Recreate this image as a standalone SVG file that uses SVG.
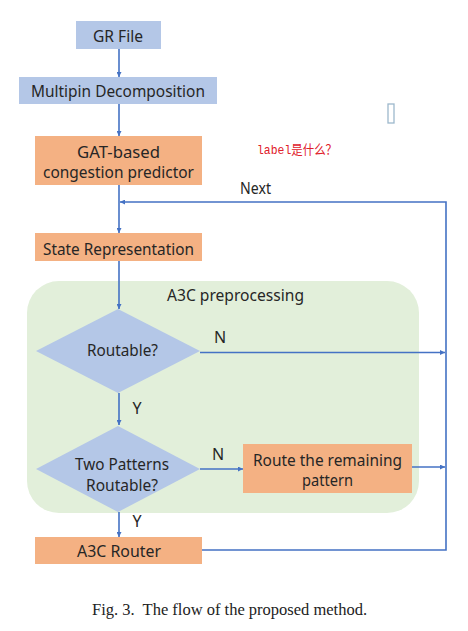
<svg xmlns="http://www.w3.org/2000/svg" width="468" height="631" viewBox="0 0 468 631">
<defs>
<style>
.t{font-family:"Noto Sans","Open Sans",sans-serif;font-size:16px;fill:#262626;text-anchor:middle}
.lbl{font-family:"Noto Sans","Open Sans",sans-serif;font-size:16px;fill:#262626;text-anchor:middle}
.blue{fill:#B4C7E7}
.orange{fill:#F4B183}
.c{fill:none;stroke:#4472C4;stroke-width:1.6}
</style>
<marker id="ah" viewBox="0 0 10 10" refX="10" refY="5" markerWidth="5" markerHeight="5" markerUnits="userSpaceOnUse" orient="auto">
<path d="M0,0 L10,5 L0,10 z" fill="#4472C4"/>
</marker>
</defs>
<rect width="468" height="631" fill="#ffffff"/>
<g id="container">
<rect x="27" y="281" width="392" height="232" rx="32" fill="#E2EFDA"/>
<text class="t" x="235.5" y="300.5" textLength="137" lengthAdjust="spacingAndGlyphs">A3C preprocessing</text>
</g>
<g id="connectors">
<line class="c" x1="119" y1="49" x2="119" y2="77" marker-end="url(#ah)"/>
<line class="c" x1="119" y1="104" x2="119" y2="136" marker-end="url(#ah)"/>
<line class="c" x1="119" y1="185" x2="119" y2="233" marker-end="url(#ah)"/>
<polyline class="c" points="202,550 446,550 446,202 120,202" marker-end="url(#ah)"/>
<line class="c" x1="119" y1="261" x2="119" y2="309" marker-end="url(#ah)"/>
<line class="c" x1="200" y1="352.5" x2="445" y2="352.5" marker-end="url(#ah)"/>
<line class="c" x1="119" y1="393" x2="119" y2="425" marker-end="url(#ah)"/>
<line class="c" x1="200" y1="469" x2="243" y2="469" marker-end="url(#ah)"/>
<line class="c" x1="412" y1="467" x2="445" y2="467" marker-end="url(#ah)"/>
<line class="c" x1="119" y1="512" x2="119" y2="537" marker-end="url(#ah)"/>
<text class="lbl" x="255.5" y="194" textLength="31" lengthAdjust="spacingAndGlyphs" fill="#1a1a1a">Next</text>
<text class="lbl" x="220" y="343">N</text>
<text class="lbl" x="137" y="414">Y</text>
<text class="lbl" x="218" y="460">N</text>
<text class="lbl" x="137" y="527">Y</text>
</g>
<g id="gr-file">
<rect class="blue" x="76" y="21" width="85" height="28"/>
<text class="t" x="118" y="41.5" textLength="50" lengthAdjust="spacingAndGlyphs">GR File</text>
</g>
<g id="multipin">
<rect class="blue" x="19" y="77" width="198" height="27"/>
<text class="t" x="118" y="97" textLength="174" lengthAdjust="spacingAndGlyphs">Multipin Decomposition</text>
</g>
<g id="gat">
<rect class="orange" x="35" y="136" width="167" height="49"/>
<text class="t" x="118.5" y="158" textLength="83" lengthAdjust="spacingAndGlyphs">GAT-based</text>
<text class="t" x="118.5" y="178" textLength="151" lengthAdjust="spacingAndGlyphs">congestion predictor</text>
</g>
<g id="state">
<rect class="orange" x="35" y="233" width="167" height="28"/>
<text class="t" x="118.5" y="255" textLength="151" lengthAdjust="spacingAndGlyphs">State Representation</text>
</g>
<g id="routable">
<polygon class="blue" points="118,309 200,351 118,393 36,351"/>
<text class="t" x="122.5" y="356" textLength="71" lengthAdjust="spacingAndGlyphs">Routable?</text>
</g>
<g id="two-patterns">
<polygon class="blue" points="118,426 200,469 118,512 36,469"/>
<text class="t" x="122" y="470" textLength="94" lengthAdjust="spacingAndGlyphs">Two Patterns</text>
<text class="t" x="122" y="490.5" textLength="72" lengthAdjust="spacingAndGlyphs">Routable?</text>
</g>
<g id="route-remaining">
<rect class="orange" x="243" y="444" width="169" height="49"/>
<text class="t" x="327.5" y="466" textLength="149" lengthAdjust="spacingAndGlyphs">Route the remaining</text>
<text class="t" x="327.5" y="486" textLength="51" lengthAdjust="spacingAndGlyphs">pattern</text>
</g>
<g id="a3c-router">
<rect class="orange" x="35" y="537" width="167" height="27"/>
<text class="t" x="119" y="557" textLength="84" lengthAdjust="spacingAndGlyphs">A3C Router</text>
</g>
<g id="annotation">
<text x="257" y="154" font-family="'Liberation Mono','Noto Sans CJK SC',monospace" font-size="13" fill="#E0202A" textLength="80" lengthAdjust="spacingAndGlyphs">label是什么？</text>
<rect x="388" y="104" width="6" height="19" fill="none" stroke="#9DB8CC" stroke-width="1.3"/>
</g>
<text x="92" y="615" font-family="'Liberation Serif',serif" font-size="16" fill="#222" textLength="275" lengthAdjust="spacingAndGlyphs" xml:space="preserve">Fig. 3.  The flow of the proposed method.</text>
</svg>
